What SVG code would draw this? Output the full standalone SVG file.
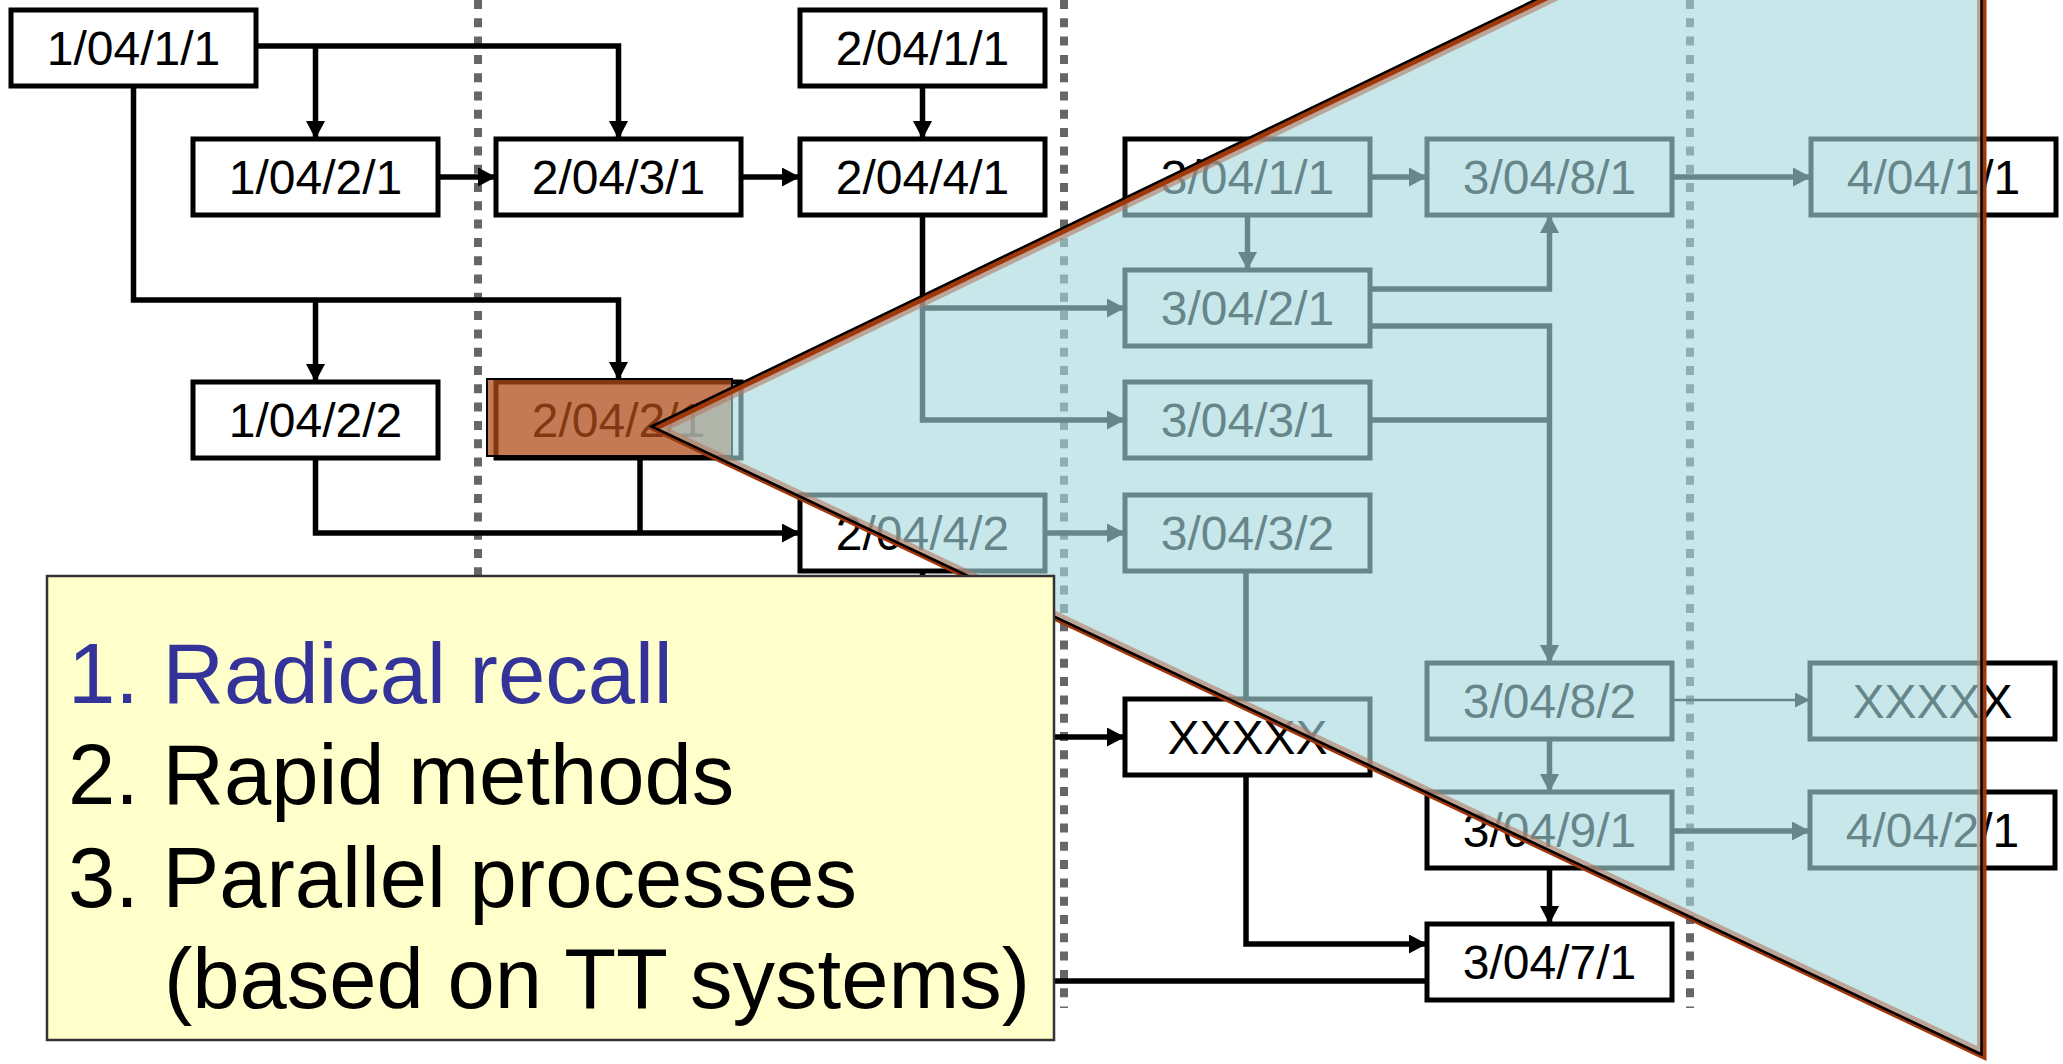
<svg xmlns="http://www.w3.org/2000/svg" width="2063" height="1064" viewBox="0 0 2063 1064">
<defs>
<style>
.node rect{fill:#fff;stroke:#000;stroke-width:5}
.node text{font-family:"Liberation Sans",Arial,sans-serif;font-size:48px;text-anchor:middle;fill:#000}
.conn path{fill:none;stroke:#000;stroke-width:5.5}
.conn path.arr{marker-end:url(#arrow)}
.conn path.thin{stroke-width:2.5;marker-end:url(#arrowThin)}
.sep{stroke:#666;stroke-width:8;stroke-dasharray:9 9.3}
.legend{font-family:"Liberation Sans",Arial,sans-serif;font-size:85px}
</style>
<marker id="arrow" markerUnits="userSpaceOnUse" markerWidth="18" markerHeight="19" viewBox="0 0 18 19" refX="18" refY="9.5" orient="auto">
<path d="M0,0 L18,9.5 L0,19 z" fill="#000"/>
</marker>
<marker id="arrowThin" markerUnits="userSpaceOnUse" markerWidth="15" markerHeight="15" viewBox="0 0 15 15" refX="15" refY="7.5" orient="auto">
<path d="M0,0 L15,7.5 L0,15 z" fill="#000"/>
</marker>
<clipPath id="triClip">
<polygon points="654,429 1584,-20 1984,-20 1984,1057"/>
</clipPath>
</defs>
<rect width="2063" height="1064" fill="#fff"/>

<g id="separators">
<line class="sep" x1="478" y1="0" x2="478" y2="1008"/>
<line class="sep" x1="1064" y1="0" x2="1064" y2="1008"/>
<line class="sep" x1="1690" y1="0" x2="1690" y2="1008"/>
</g>

<g id="connectors" class="conn">
<path class="arr" d="M256,46 H618.5 V139"/>
<path class="arr" d="M315.5,46 V139"/>
<path class="arr" d="M133.5,86 V300 H618.5 V380"/>
<path class="arr" d="M315.5,300 V382"/>
<path class="arr" d="M438,177 H496"/>
<path class="arr" d="M741,177 H800"/>
<path class="arr" d="M922.5,86 V139"/>
<path class="arr" d="M922.5,215 V420 H1125"/>
<path class="arr" d="M922.5,308 H1125"/>
<path class="arr" d="M1247.5,215 V270"/>
<path class="arr" d="M1370,177 H1427"/>
<path class="arr" d="M1672,177 H1811"/>
<path class="arr" d="M1370,289 H1549.5 V215"/>
<path class="arr" d="M1370,326 H1549.5 V663"/>
<path d="M1370,420 H1549.5"/>
<path class="arr" d="M315.5,458 V533 H800"/>
<path d="M640,458 V533"/>
<path class="arr" d="M1045,533 H1125"/>
<path class="arr" d="M922.5,571 V737 H1125"/>
<path d="M1246,571 V699"/>
<path class="arr" d="M1246,775 V944 H1427"/>
<path class="arr" d="M1549.5,739 V792"/>
<path class="thin" d="M1672,700 H1810"/>
<path class="arr" d="M1672,831 H1810"/>
<path class="arr" d="M1549.5,868 V924"/>
<path d="M1427,981 H1000"/>
</g>

<g id="n-1-04-1-1" class="node"><rect x="11" y="10" width="245" height="76"/><text x="133.5" y="65">1/04/1/1</text></g>
<g id="n-2-04-1-1" class="node"><rect x="800" y="10" width="245" height="76"/><text x="922.5" y="65">2/04/1/1</text></g>
<g id="n-1-04-2-1" class="node"><rect x="193" y="139" width="245" height="76"/><text x="315.5" y="194">1/04/2/1</text></g>
<g id="n-2-04-3-1" class="node"><rect x="496" y="139" width="245" height="76"/><text x="618.5" y="194">2/04/3/1</text></g>
<g id="n-2-04-4-1" class="node"><rect x="800" y="139" width="245" height="76"/><text x="922.5" y="194">2/04/4/1</text></g>
<g id="n-3-04-1-1" class="node"><rect x="1125" y="139" width="245" height="76"/><text x="1247.5" y="194">3/04/1/1</text></g>
<g id="n-3-04-8-1" class="node"><rect x="1427" y="139" width="245" height="76"/><text x="1549.5" y="194">3/04/8/1</text></g>
<g id="n-4-04-1-1" class="node"><rect x="1811" y="139" width="245" height="76"/><text x="1933.5" y="194">4/04/1/1</text></g>
<g id="n-3-04-2-1" class="node"><rect x="1125" y="270" width="245" height="76"/><text x="1247.5" y="325">3/04/2/1</text></g>
<g id="n-1-04-2-2" class="node"><rect x="193" y="382" width="245" height="76"/><text x="315.5" y="437">1/04/2/2</text></g>
<g id="n-2-04-2-1" class="node"><rect x="496" y="382" width="245" height="76"/><text x="618.5" y="437">2/04/2/1</text>
<rect x="487" y="379" width="245" height="77" style="fill:#b04d1a;fill-opacity:0.74;stroke:#000;stroke-width:2"/></g>
<g id="n-3-04-3-1" class="node"><rect x="1125" y="382" width="245" height="76"/><text x="1247.5" y="437">3/04/3/1</text></g>
<g id="n-2-04-4-2" class="node"><rect x="800" y="495" width="245" height="76"/><text x="922.5" y="550">2/04/4/2</text></g>
<g id="n-3-04-3-2" class="node"><rect x="1125" y="495" width="245" height="76"/><text x="1247.5" y="550">3/04/3/2</text></g>
<g id="n-3-04-8-2" class="node"><rect x="1427" y="663" width="245" height="76"/><text x="1549.5" y="718">3/04/8/2</text></g>
<g id="n-xxxxx-g" class="node"><rect x="1810" y="663" width="245" height="76"/><text x="1932.5" y="718">XXXXX</text></g>
<g id="n-xxxxx-e" class="node"><rect x="1125" y="699" width="245" height="76"/><text x="1247.5" y="754">XXXXX</text></g>
<g id="n-3-04-9-1" class="node"><rect x="1427" y="792" width="245" height="76"/><text x="1549.5" y="847">3/04/9/1</text></g>
<g id="n-4-04-2-1" class="node"><rect x="1810" y="792" width="245" height="76"/><text x="1932.5" y="847">4/04/2/1</text></g>
<g id="n-3-04-7-1" class="node"><rect x="1427" y="924" width="245" height="76"/><text x="1549.5" y="979">3/04/7/1</text></g>

<g id="callout">
<polygon points="654,429 1584,-20 1984,-20 1984,1057" fill="#a6d9df" fill-opacity="0.62"/>
<polygon points="654,429 1584,-20 1984,-20 1984,1057" fill="none" stroke="#b27a60" stroke-opacity="0.6" stroke-width="14" clip-path="url(#triClip)"/>
<polygon points="654,429 1584,-20 1984,-20 1984,1057" fill="none" stroke="#a0380c" stroke-width="5"/>
<polygon points="654,429 1584,-20 1984,-20 1984,1057" transform="translate(-2.5,-2.5)" fill="none" stroke="#000" stroke-width="2.5"/>
</g>

<g id="legend">
<rect x="47" y="576" width="1007" height="464" fill="#ffffcc" stroke="#333" stroke-width="2.5"/>
<text class="legend" x="68" y="703" fill="#333399">1. Radical recall</text>
<text class="legend" x="68" y="804" fill="#000">2. Rapid methods</text>
<text class="legend" x="68" y="907" fill="#000">3. Parallel processes</text>
<text class="legend" x="164" y="1008" fill="#000">(based on TT systems)</text>
</g>
</svg>
